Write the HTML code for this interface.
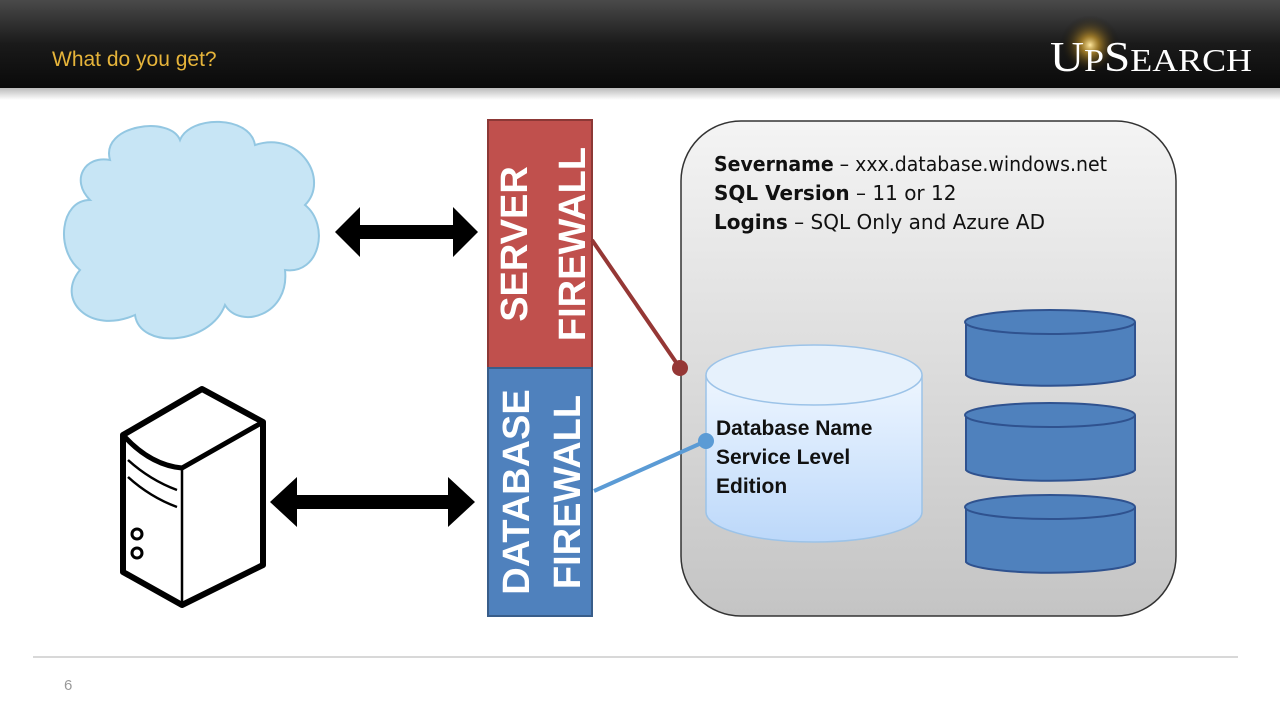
<!DOCTYPE html>
<html><head><meta charset="utf-8"><style>
body{margin:0;width:1280px;height:720px;overflow:hidden;background:#fff;font-family:"Liberation Sans",sans-serif}
</style></head><body>
<svg width="1280" height="720" xmlns="http://www.w3.org/2000/svg">
<defs>
<linearGradient id="hd" x1="0" y1="0" x2="0" y2="1"><stop offset="0" stop-color="#4a4a4a"/><stop offset="0.5" stop-color="#1a1a1a"/><stop offset="1" stop-color="#0a0a0a"/></linearGradient>
<linearGradient id="sh" x1="0" y1="0" x2="0" y2="1"><stop offset="0" stop-color="#bbb"/><stop offset="1" stop-color="#fff"/></linearGradient>
<linearGradient id="bx" x1="0" y1="0" x2="0" y2="1"><stop offset="0" stop-color="#f4f4f4"/><stop offset="1" stop-color="#c4c4c4"/></linearGradient>
<linearGradient id="cy" x1="0" y1="0" x2="0" y2="1"><stop offset="0" stop-color="#eef6ff"/><stop offset="1" stop-color="#bcd8fa"/></linearGradient>
<radialGradient id="star"><stop offset="0" stop-color="#ffe9a0"/><stop offset="0.3" stop-color="#c8982a" stop-opacity="0.7"/><stop offset="1" stop-color="#000" stop-opacity="0"/></radialGradient>
</defs>
<rect x="0" y="0" width="1280" height="88" fill="url(#hd)"/>
<rect x="0" y="88" width="1280" height="12" fill="url(#sh)"/>
<text x="52" y="66" font-size="21" fill="#e6b43a">What do you get?</text>
<circle cx="1090" cy="45" r="30" fill="url(#star)"/>
<text x="1050" y="71" font-family="Liberation Serif,serif" font-size="42" fill="#fff" textLength="202" lengthAdjust="spacingAndGlyphs">U<tspan font-size="32">P</tspan>S<tspan font-size="32">EARCH</tspan></text>

<path d="M110,160 C100,125 170,115 180,140 C190,115 250,115 255,145 C300,130 330,180 305,205 C330,225 320,275 285,270 C290,315 240,330 225,305 C210,345 140,350 135,315 C90,335 55,300 80,270 C55,250 60,200 90,200 C70,180 85,155 110,160 Z" fill="#c7e5f5" stroke="#93c7e2" stroke-width="2"/>

<polygon points="335,232 360,207 360,225 453,225 453,207 478,232 453,257 453,239 360,239 360,257" fill="#000"/>
<polygon points="270,502 297,477 297,495 448,495 448,477 475,502 448,527 448,509 297,509 297,527" fill="#000"/>

<g fill="none" stroke="#000" stroke-linejoin="round">
<path d="M123,435 L202,389 L263,422 L263,565 L182,605 L123,572 Z" fill="#fff" stroke-width="6"/>
<path d="M123,435 Q150,465 182,468 L263,422" stroke-width="5"/>
<path d="M182,468 L182,605" stroke-width="2.5"/>
<path d="M128,460 Q150,480 177,490" stroke-width="2.5"/>
<path d="M128,477 Q150,497 177,507" stroke-width="2.5"/>
<circle cx="137" cy="534" r="5" stroke-width="3"/>
<circle cx="137" cy="553" r="5" stroke-width="3"/>
</g>

<rect x="488" y="120" width="104" height="248" fill="#c0504d" stroke="#8c3836" stroke-width="2"/>
<rect x="488" y="368" width="104" height="248" fill="#4f81bd" stroke="#385d8a" stroke-width="2"/>
<g fill="#fff" font-weight="bold" font-size="38" text-anchor="middle">
<text transform="translate(527,244) rotate(-90)">SERVER</text>
<text transform="translate(585,244) rotate(-90)">FIREWALL</text>
<text transform="translate(529,492) rotate(-90)">DATABASE</text>
<text transform="translate(580,492) rotate(-90)">FIREWALL</text>
</g>

<rect x="681" y="121" width="495" height="495" rx="60" fill="url(#bx)" stroke="#333" stroke-width="1.5"/>
<g font-size="20" fill="#111" font-family="DejaVu Sans,sans-serif">
<text x="714" y="171" textLength="393" lengthAdjust="spacingAndGlyphs"><tspan font-weight="bold">Severname</tspan> – xxx.database.windows.net</text>
<text x="714" y="200"><tspan font-weight="bold">SQL Version</tspan> – 11 or 12</text>
<text x="714" y="229"><tspan font-weight="bold">Logins</tspan> – SQL Only and Azure AD</text>
</g>

<path d="M706,375 L706,512 A108,30 0 0 0 922,512 L922,375" fill="url(#cy)" stroke="#9cc3e8" stroke-width="1.5"/>
<ellipse cx="814" cy="375" rx="108" ry="30" fill="#e6f1fc" stroke="#9cc3e8" stroke-width="1.5"/>
<g font-size="21" font-weight="bold" fill="#111">
<text x="716" y="435">Database Name</text>
<text x="716" y="464">Service Level</text>
<text x="716" y="493">Edition</text>
</g>

<g fill="#4f81bd" stroke="#2f528f" stroke-width="2">
<path d="M966,322 L966,375 A85,12 0 0 0 1135,375 L1135,322"/><ellipse cx="1050" cy="322" rx="85" ry="12"/>
<path d="M966,415 L966,470 A85,12 0 0 0 1135,470 L1135,415"/><ellipse cx="1050" cy="415" rx="85" ry="12"/>
<path d="M966,507 L966,562 A85,12 0 0 0 1135,562 L1135,507"/><ellipse cx="1050" cy="507" rx="85" ry="12"/>
</g>

<line x1="592" y1="240" x2="680" y2="368" stroke="#953735" stroke-width="4"/>
<circle cx="680" cy="368" r="8" fill="#953735"/>
<line x1="594" y1="491" x2="706" y2="441" stroke="#5b9bd5" stroke-width="4"/>
<circle cx="706" cy="441" r="8" fill="#5b9bd5"/>

<line x1="33" y1="657" x2="1238" y2="657" stroke="#ccc" stroke-width="1.5"/>
<text x="64" y="690" font-size="15" fill="#999">6</text>
</svg>
</body></html>
